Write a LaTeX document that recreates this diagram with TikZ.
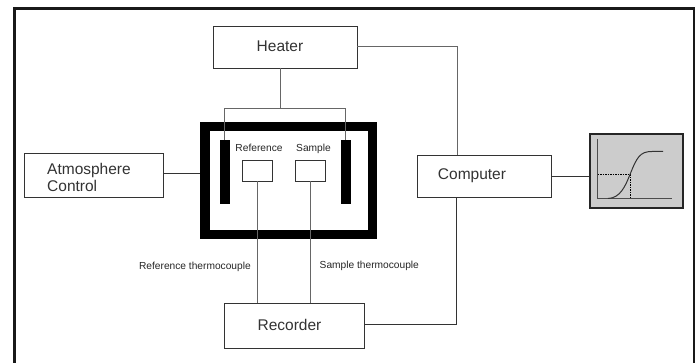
\documentclass[tikz,border=0pt]{standalone}
\usepackage{fontspec}
\setmainfont{Liberation Sans}
\usepackage{xcolor}
\usetikzlibrary{arrows.meta, positioning, calc}
\definecolor{wiregray}{gray}{0.4}
\definecolor{panelgray}{gray}{0.8}
\tikzset{
	unitbox/.style={draw=black!80, line width=0.9pt, fill=white, minimum width=#1, inner sep=0pt},
	unitlabel/.style={font=\fontsize{15.5}{17}\selectfont, text=black!80, inner sep=0pt},
	wire/.style={draw=wiregray, line width=0.9pt},
	darkwire/.style={draw=black!80, line width=0.9pt},
	smalllabel/.style={font=\fontsize{10.2}{12}\selectfont, inner sep=0pt, text=black!85},
}
\begin{document}
\begin{tikzpicture}[x=1pt, y=-1pt]
	\useasboundingbox (0,0) rectangle (697,363);
	\fill[white] (0,0) rectangle (697,363);
	% page frame
	\draw[line width=2.4pt, black!90] (14.5,363) -- (14.5,8.5) -- (694,8.5) -- (694,363);
	% furnace
	\draw[line width=9.5pt] (204.8,126.5) rectangle (372.7,234.5);
	\fill (220,140) rectangle (230,204);
	\fill (341,140) rectangle (351,204);
	% units
	\node[unitbox=143.5pt, minimum height=42pt] (heater) at (285.5,47) {};
	\node[unitlabel] (heatertext) at (280,46) {Heater};
	\node[unitbox=139pt, minimum height=44pt] (atmos) at (93.5,175) {};
	\node[unitlabel, align=left, anchor=west] (atmostext) at (47,177) {Atmosphere\\Control};
	\node[unitbox=134pt, minimum height=42pt] (computer) at (484,176) {};
	\node[unitlabel] (computertext) at (472,176) {Computer};
	\node[unitbox=140pt, minimum height=45pt] (recorder) at (294,325.5) {};
	\node[unitlabel] (recordertext) at (289.5,325) {Recorder};
	\node[unitbox=30pt, minimum height=21pt] (refpan) at (257,170.5) {};
	\node[unitbox=30pt, minimum height=21pt] (samplepan) at (310,170.5) {};
	\node[smalllabel] (reflabel) at (259,148) {Reference};
	\node[smalllabel] (samplelabel) at (313.5,149) {Sample};
	\node[smalllabel, anchor=east] (refcouple) at (251,267) {Reference thermocouple};
	\node[smalllabel, anchor=west] (samplecouple) at (319.5,266) {Sample thermocouple};
	% connections
	\coordinate (heaterbarl) at (224.5,140);
	\coordinate (heaterbarr) at (345,140);
	\coordinate (heatertap) at (280,68);
	\coordinate (heatermid) at (280,108.5);
	\coordinate (heaterout) at (357,46);
	\coordinate (computertop) at (457,155);
	\coordinate (computerlow) at (456,197);
	\coordinate (recorderout) at (364,324);
	\draw[wire] (heatertap) -- (heatermid);
	\draw[wire] (heaterbarl) |- (heatermid) -| (heaterbarr);
	\draw[wire] (heaterout) -| (computertop);
	\draw[wire] (refpan.south) -- (refpan.south |- recorder.north);
	\draw[wire] (samplepan.south) -- (samplepan.south |- recorder.north);
	\draw[darkwire] (atmos.east |- 0,173.5) -- (200,173.5);
	\draw[darkwire] (computer.east) -- (590,176);
	\draw[darkwire] (recorderout) -| (computerlow);
	% plot panel
	\node[draw=black!85, line width=1.2pt, fill=panelgray, minimum width=93pt, minimum height=74pt, inner sep=0pt] (panel) at (636.5,171) {};
	\draw[line width=0.6pt, black!70] (597.5,139) -- (597.5,198.5) -- (672,198.5);
	\draw[line width=0.7pt, dash pattern=on 1.5pt off 1pt] (597.5,174.5) -- (630,174.5) -- (630,198.5);
	\draw[line width=1pt, black!80] (608,198.5) .. controls (620,198) and (625,187) .. (630,174.5) .. controls (637,157) and (640,151.5) .. (652,151.5) -- (663,151.5);
\end{tikzpicture}
\end{document}
